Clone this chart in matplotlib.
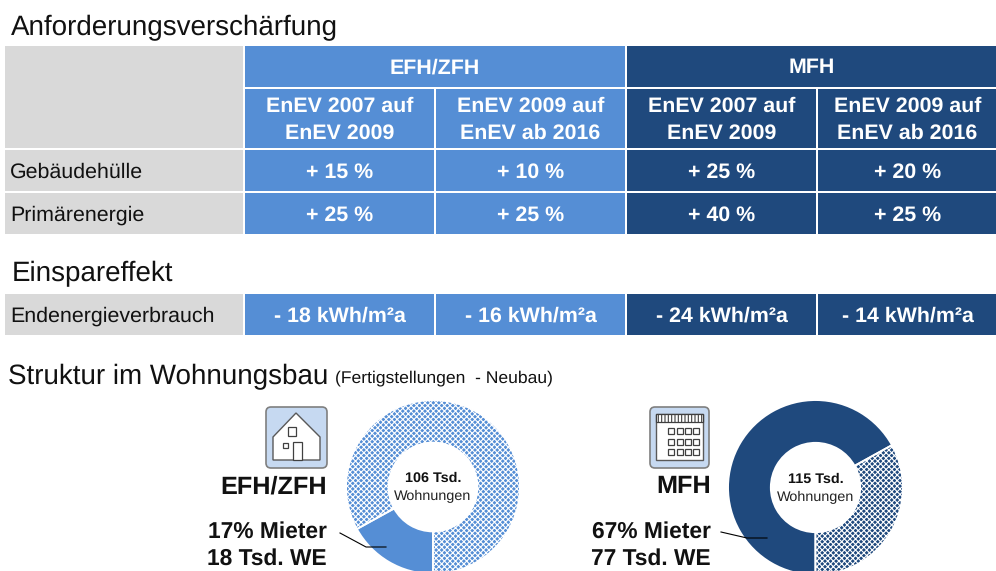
# Tabla de requisitos EnEV y estructura de vivienda nueva

import matplotlib
matplotlib.use('Agg')
import matplotlib.pyplot as plt
from matplotlib.patches import Rectangle, FancyBboxPatch, Polygon

plt.rcParams['font.family'] = ['Liberation Sans', 'DejaVu Sans']
plt.rcParams['hatch.linewidth'] = 0.8
plt.rcParams['text.hinting'] = 'no_hinting'

# Datos

grupos = ['EFH/ZFH', 'MFH']
columnas = ['EnEV 2007 auf\nEnEV 2009', 'EnEV 2009 auf\nEnEV ab 2016',
            'EnEV 2007 auf\nEnEV 2009', 'EnEV 2009 auf\nEnEV ab 2016']
filas = ['Gebäudehülle', 'Primärenergie']
gebaeudehuelle = ['+ 15 %', '+ 10 %', '+ 25 %', '+ 20 %']
primaerenergie = ['+ 25 %', '+ 25 %', '+ 40 %', '+ 25 %']
fila_ahorro = 'Endenergieverbrauch'
endenergie = ['- 18 kWh/m²a', '- 16 kWh/m²a', '- 24 kWh/m²a', '- 14 kWh/m²a']

efh_wohnungen = [18, 88]
mfh_wohnungen = [77, 38]
efh_mitte = ['106 Tsd.', 'Wohnungen']
mfh_mitte = ['115 Tsd.', 'Wohnungen']
efh_texto = ['EFH/ZFH', '17% Mieter', '18 Tsd. WE']
mfh_texto = ['MFH', '67% Mieter', '77 Tsd. WE']

# Colores y medidas en pixeles

AZUL = '#558ED5'
OSCURO = '#1F497D'
GRIS = '#D9D9D9'
NEGRO = '#111111'
W, H = 996, 571
x_cols = [(245, 434), (436, 625), (627, 816), (818, 997)]
colores = [AZUL, AZUL, OSCURO, OSCURO]

fig = plt.figure(figsize=(W / 100, H / 100), dpi=100)


def dona(cx, cy, r, valores, color, mitad):

    ax_p = fig.add_axes([(cx - r) / W, 1 - (cy + r) / H, 2 * r / W, 2 * r / H])
    wedges, _ = ax_p.pie(valores, startangle=270, counterclock=False, radius=1,
                         colors=[color, color],
                         wedgeprops={'width': 0.49, 'edgecolor': 'white', 'linewidth': 1.4})
    wedges[1].set_hatch('xxxxxx')
    ax_p.set_xlim(-1, 1)
    ax_p.set_ylim(-1, 1)
    ax_p.text(0, 0.10, mitad[0], ha='center', va='center', fontsize=10.4, fontweight='bold', color=NEGRO)
    ax_p.text(0, -0.11, mitad[1], ha='center', va='center', fontsize=10.4, color='#222222')


# Donas primero, la capa principal queda encima por las lineas guia

dona(433, 487, 87, efh_wohnungen, AZUL, efh_mitte)
dona(815.5, 487.5, 87.5, mfh_wohnungen, OSCURO, mfh_mitte)

ax = fig.add_axes([0, 0, 1, 1], zorder=5)
ax.set_xlim(0, W)
ax.set_ylim(H, 0)
ax.axis('off')


def celda(x0, x1, y0, y1, color):

    ax.add_patch(Rectangle((x0, y0), x1 - x0, y1 - y0, facecolor=color, edgecolor='none'))


def valor(x0, x1, y0, y1, texto):

    ax.text((x0 + x1) / 2, (y0 + y1) / 2 + 1.5, texto, ha='center', va='center', color='white',
            fontsize=15.4, fontweight='bold', linespacing=1.52)


# Titulos de seccion

ax.text(11, 28, 'Anforderungsverschärfung', fontsize=20, va='center', color=NEGRO)
ax.text(12, 274, 'Einspareffekt', fontsize=20, va='center', color=NEGRO)
ax.text(8, 377, 'Struktur im Wohnungsbau', fontsize=20, va='center', color=NEGRO)
ax.text(335, 378, '(Fertigstellungen  - Neubau)', fontsize=12.6, va='center', color=NEGRO)

# Tabla de arriba

celda(5, 243, 46, 148, GRIS)
celda(245, 625, 46, 87, AZUL)
celda(627, 997, 46, 87, OSCURO)
valor(245, 625, 46, 87, grupos[0])
valor(627, 997, 46, 87, grupos[1])

for (x0, x1), c, txt in zip(x_cols, colores, columnas):

    celda(x0, x1, 89, 148, c)
    valor(x0, x1, 89, 148, txt)

for (y0, y1), nombre, vals in zip([(150, 191), (193, 234)], filas, [gebaeudehuelle, primaerenergie]):

    celda(5, 243, y0, y1, GRIS)
    ax.text(10, (y0 + y1) / 2 + 1.5, nombre, fontsize=15.4, va='center', color=NEGRO)

    for (x0, x1), c, txt in zip(x_cols, colores, vals):

        celda(x0, x1, y0, y1, c)
        valor(x0, x1, y0, y1, txt)

# Fila de ahorro

celda(5, 243, 294, 335, GRIS)
ax.text(10, 316.5, fila_ahorro, fontsize=15.4, va='center', color=NEGRO)

for (x0, x1), c, txt in zip(x_cols, colores, endenergie):

    celda(x0, x1, 294, 335, c)
    valor(x0, x1, 294, 335, txt)


# Iconos

def caja_icono(x0, x1):

    ax.add_patch(FancyBboxPatch((x0 + 3, 410), x1 - x0 - 6, 55, boxstyle='round,pad=3,rounding_size=5',
                                facecolor='#C6D9F1', edgecolor='#7F7F7F', linewidth=1.2))


caja_icono(266, 327)
ax.add_patch(Polygon([(273, 460), (273, 437), (296, 413), (320, 437), (320, 460)], closed=True,
                     facecolor='white', edgecolor='#595959', linewidth=1))

for x0, y0, w, h in [(288, 427, 8, 9), (283, 443, 5, 5), (293, 442, 9, 18)]:

    ax.add_patch(Rectangle((x0, y0), w, h, facecolor='white', edgecolor='#404040', linewidth=0.9))

caja_icono(650, 709)
ax.add_patch(Rectangle((656, 414), 47, 46, facecolor='white', edgecolor='#595959', linewidth=1))
ax.add_patch(Rectangle((656, 414), 47, 8, facecolor='white', edgecolor='#404040', linewidth=0.9, hatch='|||||'))

for fy in [428, 439, 449]:

    for fx in [668, 677, 685, 693]:

        ax.add_patch(Rectangle((fx, fy), 5.5, 6, facecolor='white', edgecolor='#404040', linewidth=0.9))

# Textos de las donas

for x_der, textos in [(327, efh_texto), (711, mfh_texto)]:

    ax.text(x_der, 487, textos[0], ha='right', va='center', fontsize=18.2, fontweight='bold', color=NEGRO)
    ax.text(x_der, 532, textos[1], ha='right', va='center', fontsize=16.4, fontweight='bold', color=NEGRO)
    ax.text(x_der, 559, textos[2], ha='right', va='center', fontsize=16.4, fontweight='bold', color=NEGRO)

# Lineas guia

ax.plot([340, 366, 386], [533, 547, 547], color='black', linewidth=0.8)
ax.plot([721, 747, 767], [532, 538, 538], color='black', linewidth=0.8)

fig.savefig('out.png', dpi=100)
plt.close()
